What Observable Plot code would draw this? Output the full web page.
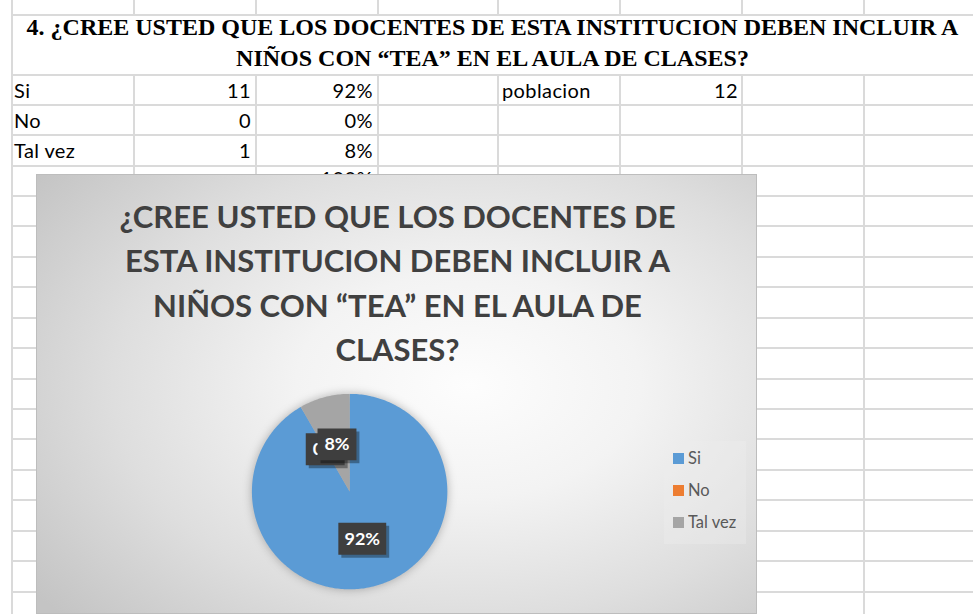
<!DOCTYPE html>
<html>
<head>
<meta charset="utf-8">
<script src="https://cdn.jsdelivr.net/npm/d3@7"></script>
<script src="https://cdn.jsdelivr.net/npm/@observablehq/plot@0.6"></script>
<style>
  html, body { margin: 0; padding: 0; background: #fff; }
  #page { position: relative; width: 973px; height: 614px; overflow: hidden; background: #fff; font-family: Lato, "Open Sans", sans-serif; }
  .hl { position: absolute; height: 2px; background: #dadada; }
  .vl { position: absolute; width: 2px; background: #dadada; }
  .cell { position: absolute; font-size: 20px; letter-spacing: 0.4px; color: #000; line-height: 30px; white-space: nowrap; }
  #sheetTitle { position: absolute; left: 12px; top: 12px; width: 961px; text-align: center; font-family: "Liberation Serif", "Times New Roman", serif; font-weight: bold; font-size: 24px; line-height: 31px; color: #000; }
  #chart { position: absolute; left: 36px; top: 174px; width: 721px; height: 440px; border: 1px solid #bdbdbd; box-sizing: border-box;
    background: radial-gradient(ellipse 75% 80% at 60% 48%, #fdfdfd 0%, #f3f3f3 32%, #dedede 66%, #c4c4c4 100%); }
  #chartTitle { position: absolute; left: 0; top: 19px; width: 721px; text-align: center; font-family: Lato, sans-serif; font-weight: bold; font-size: 31px; line-height: 44.3px; color: #404040; }
  #plot { position: absolute; left: 0; top: 0; }
  #legendBox { position: absolute; left: 627px; top: 266px; width: 82px; height: 103px; background: rgba(238,238,238,0.35); }
  #legend { position: absolute; left: 636px; top: 273px; }
  #legend .lg-swatch { margin-bottom: 12px; padding-bottom: 0; }
  #legend .lg-swatch svg { margin-right: 4px; }
</style>
</head>
<body>
<div id="page"></div>
<script>
// ---- data ----
const categories = ["Si", "No", "Tal vez"];
const counts = [11, 0, 1];
const percents = ["92%", "0%", "8%"];
const totalPct = "100%";
const populationLabel = "poblacion";
const population = 12;
const colors = ["#5B9BD5", "#ED7D31", "#A5A5A5"];
const sheetTitleLines = ["4. ¿CREE USTED QUE LOS DOCENTES DE ESTA INSTITUCION DEBEN INCLUIR A", "NIÑOS CON “TEA” EN EL AULA DE CLASES?"];
const chartTitleLines = ["¿CREE USTED QUE LOS DOCENTES DE", "ESTA INSTITUCION DEBEN INCLUIR A", "NIÑOS CON “TEA” EN EL AULA DE", "CLASES?"];

// ---- spreadsheet grid ----
const page = document.getElementById("page");
const colX = [11, 133, 255, 377, 497, 619, 741, 863];
const rowY = [74, 104, 134, 165, 195, 225, 256, 286, 317, 347, 378, 408, 438, 469, 499, 530, 560, 591];
function add(cls, style, text) {
  const d = document.createElement("div");
  d.className = cls;
  Object.assign(d.style, style);
  if (text != null) d.textContent = text;
  page.appendChild(d);
  return d;
}
colX.forEach(x => add("vl", {left: x + "px", top: "0px", height: "15px"}));
add("hl", {left: "11px", top: "14px", width: "962px"});
add("vl", {left: "11px", top: "14px", height: "60px"});
rowY.forEach(y => add("hl", {left: "11px", top: y + "px", width: "962px"}));
colX.forEach(x => add("vl", {left: x + "px", top: "74px", height: "540px"}));

const st = add("", {}, null);
st.id = "sheetTitle";
st.innerHTML = sheetTitleLines.join("<br>");

categories.forEach((c, i) => {
  const top = rowY[i] + 1;
  add("cell", {left: "14px", top: top + "px"}, c);
  add("cell", {left: "133px", width: "118px", textAlign: "right", top: top + "px"}, String(counts[i]));
  add("cell", {left: "255px", width: "118px", textAlign: "right", top: top + "px"}, percents[i]);
});
add("cell", {left: "255px", width: "118px", textAlign: "right", top: (rowY[3] - 2) + "px"}, totalPct);
add("cell", {left: "502px", top: (rowY[0] + 1) + "px"}, populationLabel);
add("cell", {left: "619px", width: "119px", textAlign: "right", top: (rowY[0] + 1) + "px"}, String(population));

// ---- chart ----
const chart = add("", {}, null);
chart.id = "chart";
const ct = document.createElement("div");
ct.id = "chartTitle";
ct.innerHTML = chartTitleLines.join("<br>");
chart.appendChild(ct);

const total = d3.sum(counts);
let acc = 0;
const slices = categories.map((c, i) => {
  const a0 = acc / total * 2 * Math.PI;
  acc += counts[i];
  const a1 = acc / total * 2 * Math.PI;
  return {cat: c, a0, a1, label: percents[i]};
});
const pts = slices.flatMap(s => {
  const n = Math.max(2, Math.ceil((s.a1 - s.a0) / (Math.PI / 180)));
  const arr = [{cat: s.cat, x: 0, y: 0}];
  for (let k = 0; k <= n; k++) {
    const a = s.a0 + (s.a1 - s.a0) * k / n;
    arr.push({cat: s.cat, x: Math.sin(a), y: Math.cos(a)});
  }
  arr.push({cat: s.cat, x: 0, y: 0});
  return arr;
});
const labels = slices.map(s => {
  const m = (s.a0 + s.a1) / 2;
  return {cat: s.cat, label: s.label, x: 0.5 * Math.sin(m), y: 0.5 * Math.cos(m)};
});
function boxSymbol(w, h) {
  return {draw(ctx) { ctx.rect(-w / 2, -h / 2, w, h); }};
}
const labelMarks = labels.flatMap(d => {
  const w = 21 + 9 * d.label.length, h = 32;
  return [
    Plot.dot([d], {x: "x", y: "y", symbol: boxSymbol(w, h), r: 10, fill: "rgba(0,0,0,0.35)", stroke: null, dx: 3, dy: 3}),
    Plot.dot([d], {x: "x", y: "y", symbol: boxSymbol(w, h), r: 10, fill: "#3e3e3e", stroke: null}),
    Plot.text([d], {x: "x", y: "y", text: "label", fill: "white", fontSize: 18, fontWeight: "bold", fontFamily: "Lato, sans-serif"})
  ];
});

const colorScale = {domain: categories, range: colors};
const plot = Plot.plot({
  width: 721,
  height: 440,
  marginLeft: 215,
  marginRight: 310,
  marginTop: 219,
  marginBottom: 25,
  x: {domain: [-1, 1], axis: null},
  y: {domain: [-1, 1], axis: null},
  color: colorScale,
  style: {background: "transparent", overflow: "visible"},
  marks: [
    Plot.line(pts, {x: "x", y: "y", z: "cat", fill: "cat", stroke: null, curve: "linear"}),
    ...labelMarks
  ]
});
plot.id = "plot";
const lineG = plot.querySelector('g[aria-label="line"]');
if (lineG) lineG.style.filter = "drop-shadow(0px 0px 5px rgba(0,0,0,0.28))";
chart.appendChild(plot);

const lb = document.createElement("div");
lb.id = "legendBox";
chart.appendChild(lb);
const legend = Plot.legend({
  color: colorScale,
  legend: "swatches",
  columns: 1,
  swatchSize: 11,
  className: "lg",
  style: {fontSize: "16.5px", fontFamily: "Lato, sans-serif", color: "#595959", background: "transparent"}
});
const lw = document.createElement("div");
lw.id = "legend";
lw.appendChild(legend);
chart.appendChild(lw);
</script>
</body>
</html>
